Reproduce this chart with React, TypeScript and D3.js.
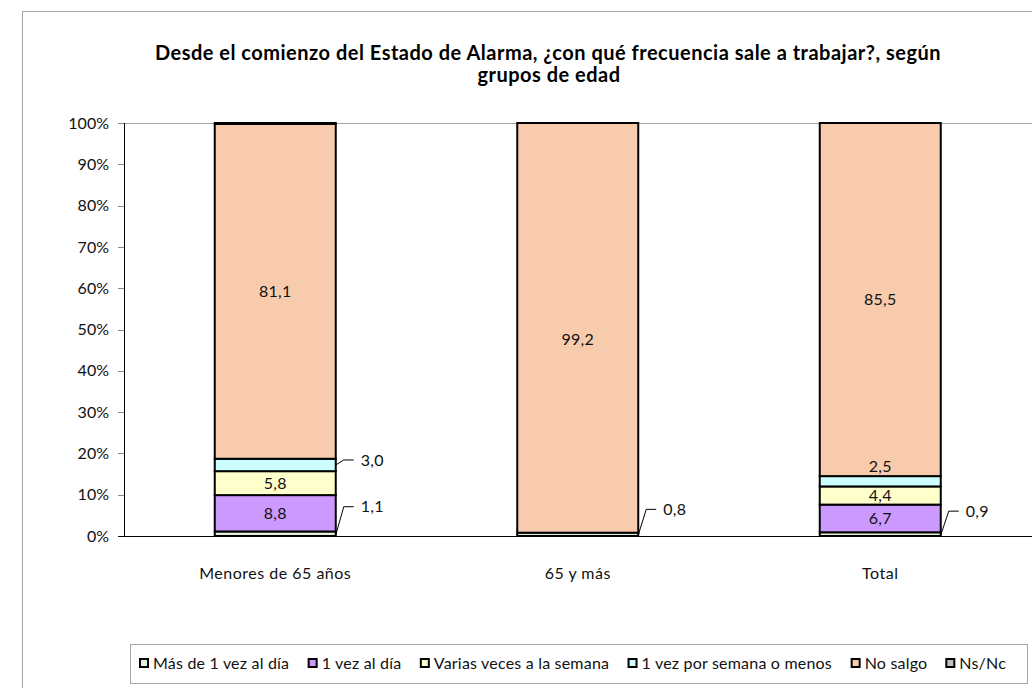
import React from 'react';
import * as d3 from 'd3';

// categories and series
const categories = ['Menores de 65 años', '65 y más', 'Total'];
const seriesNames = [
  'Más de 1 vez al día',
  '1 vez al día',
  'Varias veces a la semana',
  '1 vez por semana o menos',
  'No salgo',
  'Ns/Nc',
];
// values per series, one number per category (percent)
const masDeUnaVez = [1.1, 0.8, 0.9];
const unaVezDia = [8.8, 0, 6.7];
const variasVeces = [5.8, 0, 4.4];
const unaVezSemana = [3.0, 0, 2.5];
const noSalgo = [81.1, 99.2, 85.5];
const nsNc = [0.2, 0, 0];
const yTicks = [0, 10, 20, 30, 40, 50, 60, 70, 80, 90, 100];

const colors = ['#e2efda', '#cc99ff', '#ffffcc', '#ccffff', '#f8cbad', '#c0c0c0'];
const FONT = 'Lato, "Open Sans", sans-serif';
const FS = 16;
const LS = 0.3;
const LEG_LS = 0.2;

const W = 1032;
const H = 688;
const plot = { left: 124, right: 1031.5, top: 123, bottom: 536 };

const fmt = (v: number) => v.toFixed(1).replace('.', ',');

// text measurement for the legend layout
const measure = (() => {
  let ctx: CanvasRenderingContext2D | null = null;
  return (txt: string, size: number) => {
    if (!ctx) ctx = document.createElement('canvas').getContext('2d');
    if (!ctx) return txt.length * size * 0.5;
    ctx.font = `${size}px Lato`;
    return ctx.measureText(txt).width + txt.length * LEG_LS;
  };
})();

export default function App() {
  const values = [masDeUnaVez, unaVezDia, variasVeces, unaVezSemana, noSalgo, nsNc];
  const rows = categories.map((c, i) => {
    const r: any = { cat: c };
    seriesNames.forEach((s, j) => (r[s] = values[j][i]));
    return r;
  });
  const stacked = d3.stack<any>().keys(seriesNames)(rows);

  const x = d3.scaleBand<string>().domain(categories).range([plot.left, plot.right]).paddingInner(0.6).paddingOuter(0.3);
  const y = d3.scaleLinear().domain([0, 100]).range([plot.bottom, plot.top]);

  // legend layout
  const legItems: { name: string; x: number; color: string }[] = [];
  let lx = 140;
  seriesNames.forEach((s, i) => {
    legItems.push({ name: s, x: lx, color: colors[i] });
    lx += 13 + measure(s, FS) + 19;
  });

  const txt = { fontSize: FS, fontFamily: FONT, fill: '#111', letterSpacing: LS };

  const labels: React.ReactNode[] = [];
  stacked.forEach((layer, si) => {
    layer.forEach((d, ci) => {
      const v = d[1] - d[0];
      if (v <= 0.25) return;
      const cat = categories[ci];
      const x0 = x(cat)!;
      const bw = x.bandwidth();
      const mid = y((d[0] + d[1]) / 2);
      const key = `${si}-${ci}`;
      if (v < 1.5 || (si === 3 && ci === 0)) {
        // callout to the right of the bar
        const sx = x0 + bw;
        const sy = v < 1.5 ? plot.bottom - 1 : mid;
        const ly = v < 1.5 ? mid - 27 + (ci * 2) : mid - 5;
        labels.push(
          <g key={key}>
            <polyline points={`${sx},${sy} ${sx + 8},${ly} ${sx + 18},${ly}`} fill="none" stroke="#000" strokeWidth={1} />
            <text x={sx + 25} y={ly} dy="0.35em" {...txt}>{fmt(v)}</text>
          </g>
        );
      } else if (v < 3) {
        labels.push(
          <text key={key} x={x0 + bw / 2} y={y(d[1]) - 10} dy="0.35em" textAnchor="middle" {...txt}>{fmt(v)}</text>
        );
      } else {
        const yy = si === 4 && d[0] < 1 ? mid + 12 : mid;
        labels.push(
          <text key={key} x={x0 + bw / 2} y={yy} dy="0.35em" textAnchor="middle" {...txt}>{fmt(v)}</text>
        );
      }
    });
  });

  return (
    <svg width={W} height={H} style={{ position: 'absolute', left: 0, top: 0, background: '#fff' }}>
      <rect x={22.5} y={11.5} width={1030} height={700} fill="#fff" stroke="#a6a6a6" strokeWidth={1} />
      <text x={548} y={53} dy="0.35em" textAnchor="middle" fontSize={20} fontWeight="bold" fontFamily={FONT} letterSpacing={0.5} fill="#000">
        Desde el comienzo del Estado de Alarma, ¿con qué frecuencia sale a trabajar?, según
      </text>
      <text x={549} y={75} dy="0.35em" textAnchor="middle" fontSize={20} fontWeight="bold" fontFamily={FONT} letterSpacing={0.5} fill="#000">
        grupos de edad
      </text>

      {/* plot frame top */}
      <line x1={plot.left} x2={W} y1={plot.top + 0.5} y2={plot.top + 0.5} stroke="#a6a6a6" />

      {/* y ticks */}
      {yTicks.map(t => (
        <g key={t}>
          <line x1={plot.left - 6} x2={plot.left} y1={Math.round(y(t)) + 0.5} y2={Math.round(y(t)) + 0.5} stroke="#888" />
          <text x={109} y={y(t)} dy="0.35em" textAnchor="end" {...txt} letterSpacing={0}>{t}%</text>
        </g>
      ))}

      {/* bars */}
      {stacked.map((layer, si) => (
        <g key={seriesNames[si]}>
          {layer.map((d, ci) => (d[1] - d[0] > 0 ? (
            <rect key={ci} x={x(categories[ci])} y={y(d[1])} width={x.bandwidth()} height={y(d[0]) - y(d[1])}
              fill={colors[si]} stroke="#000" strokeWidth={2} />
          ) : null))}
        </g>
      ))}

      {/* axes */}
      <line x1={plot.left + 0.5} x2={plot.left + 0.5} y1={plot.top} y2={plot.bottom} stroke="#000" />
      <line x1={plot.left - 6} x2={W} y1={plot.bottom + 0.5} y2={plot.bottom + 0.5} stroke="#000" />

      {labels}

      {categories.map(c => (
        <text key={c} x={x(c)! + x.bandwidth() / 2} y={573} dy="0.35em" textAnchor="middle" {...txt} letterSpacing={0.5}>{c}</text>
      ))}

      {/* legend */}
      <rect x={130.5} y={644.5} width={897} height={39} fill="#fff" stroke="#a6a6a6" />
      {legItems.map(it => (
        <g key={it.name}>
          <rect x={it.x} y={659} width={8} height={8} fill={it.color} stroke="#000" strokeWidth={2} />
          <text x={it.x + 13} y={663} dy="0.35em" {...txt} letterSpacing={LEG_LS}>{it.name}</text>
        </g>
      ))}
    </svg>
  );
}
